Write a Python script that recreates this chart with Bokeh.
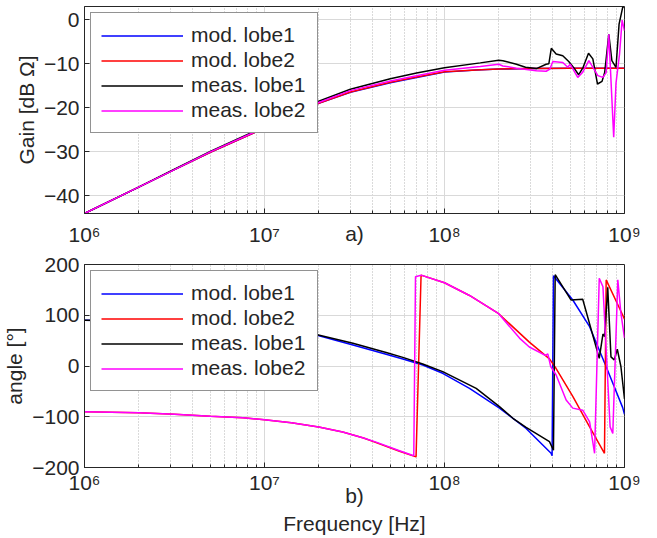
from bokeh.plotting import figure
from bokeh.layouts import column
from bokeh.models import Range1d, FixedTicker
from bokeh.embed import file_html
from bokeh.resources import INLINE

# ---------------- data: gain (top) ----------------
f_gain_mod = [1e6, 2e6, 3e6, 5e6, 1e7, 1.5e7, 2e7, 3e7, 5e7, 7e7, 1e8, 1.5e8, 2e8, 3e8, 5e8, 1e9]
gain_mod1 = [-44, -38, -34.5, -30.1, -24.6, -21.3, -19.0, -16.5, -14.3, -13.1, -11.9, -11.4, -11.2, -11.1, -11.0, -11.0]
gain_mod2 = [-44, -38, -34.5, -30.1, -24.6, -21.3, -19.0, -16.4, -14.2, -13.0, -11.8, -11.4, -11.2, -11.05, -11.0, -11.0]

f_gain_meas1 = [1e6, 2e6, 3e6, 5e6, 1e7, 2e7, 3e7, 5e7, 7e7, 1e8,
                1.58e8, 2.0e8, 2.11e8, 2.51e8, 2.82e8, 3.24e8, 3.67e8, 3.80e8, 3.92e8, 4.17e8,
                4.54e8, 4.90e8, 5.25e8, 5.56e8, 5.89e8, 6.31e8, 6.67e8, 7.08e8, 7.50e8, 7.76e8,
                8.18e8, 8.51e8, 8.97e8, 9.33e8, 9.77e8, 1.0e9]
gain_meas1 = [-44, -38, -34.4, -29.9, -24.3, -18.5, -15.8, -13.4, -12.1, -10.9,
              -9.8, -9.2, -9.3, -10.1, -10.8, -11.1, -10.1, -10.0, -6.5, -7.8,
              -8.2, -9.5, -11.0, -12.5, -10.8, -7.6, -8.9, -14.6, -14.0, -12.0,
              -3.3, -9.3, -10.8, -1.0, 2.8, 3.0]

f_gain_meas2 = [1e6, 2e6, 3e6, 5e6, 1e7, 2e7, 3e7, 5e7, 7e7, 1e8,
                1.58e8, 2.0e8, 2.11e8, 2.51e8, 3.24e8, 3.67e8, 3.85e8, 4.0e8, 4.54e8, 4.84e8,
                4.99e8, 5.50e8, 5.86e8, 6.34e8, 7.11e8, 7.59e8, 7.91e8, 8.18e8, 8.71e8, 8.97e8,
                9.38e8, 9.70e8, 1.0e9]
gain_meas2 = [-44, -38, -34.5, -30, -24.5, -18.8, -16.1, -13.9, -12.7, -11.5,
              -10.6, -10.1, -10.5, -11.0, -11.6, -11.7, -11.2, -9.5, -9.7, -10.8,
              -10.1, -13.1, -11.9, -9.3, -12.7, -13.1, -12.0, -3.3, -26.7, -14.4,
              -7.9, -0.1, -2.5]

# ---------------- data: phase (bottom) ----------------
f_phase_mod1 = [1e6, 2e6, 3.16e6, 5e6, 1e7, 1.94e7, 3.1e7, 4.74e7, 5.87e7, 7.57e7,
                9.77e7, 1.377e8, 2.02e8, 2.84e8, 3.91e8, 3.96e8, 4.03e8, 5.16e8, 6.4e8, 7.9e8,
                9.77e8, 1e9]
phase_mod1 = [90, 88.5, 86, 83, 75, 61, 41.4, 23, 13.8, 2,
              -14.4, -44, -83, -123, -172, -177, 178, 130, 77.5, -1,
              -82, -95]

f_phase_mod2 = [1e6, 2e6, 3.16e6, 5e6, 7.59e6, 1e7, 1.41e7, 2.0e7, 2.72e7, 3.55e7,
                4.17e7, 5.62e7, 6.95e7, 7.41e7, 1.0e8, 1.377e8, 2.0e8, 2.96e8, 3.83e8, 4.17e8,
                5.16e8, 6.4e8, 7.74e8, 7.91e8, 9.77e8, 1e9]
phase_mod2 = [-90, -92, -95, -99, -102, -106, -112, -120, -130, -142,
              -151, -168, -179, 179, 164, 139, 103, 47, 14, -5,
              -60, -120, -172, 169.6, 100.6, 92]

f_phase_meas1 = [1e6, 2e6, 3.16e6, 5e6, 1e7, 1.94e7, 3.1e7, 4.74e7, 5.87e7, 7.57e7,
                 9.77e7, 1.5e8, 2.02e8, 2.4e8, 2.84e8, 3.83e8, 4.03e8, 4.12e8, 5.05e8, 5.86e8,
                 7.24e8, 7.59e8, 7.76e8, 8.07e8, 8.41e8, 8.77e8, 9.12e8, 9.55e8, 1e9]
phase_meas1 = [90, 88.5, 86, 83.5, 76, 62, 45, 26.5, 17, 4,
               -11, -44, -80, -103, -121, -149, -166, 180, 130, 131.5,
               15, 63, 58, 155, 18, 12, 33, -1, -65]

f_phase_meas2 = [1e6, 2e6, 3.16e6, 5e6, 7.59e6, 1e7, 1.41e7, 2.0e7, 2.72e7, 3.55e7,
                 4.17e7, 5.62e7, 6.75e7, 6.9e7, 7.41e7, 1.0e8, 1.377e8, 2.0e8, 2.61e8, 2.96e8,
                 3.63e8, 3.75e8, 3.89e8, 4.17e8, 4.74e8, 5.16e8, 5.86e8, 6.4e8, 6.82e8, 7.24e8,
                 7.59e8, 8.32e8, 8.61e8, 9.18e8, 9.55e8, 1e9]
phase_meas2 = [-90, -92, -95, -99, -102, -106, -112, -120, -130, -142,
               -150, -167, -177, 176, 179, 164, 139, 103, 55, 37.5,
               21, 24, -1, -17.7, -67, -83, -87, -110, -172, 173,
               156, -120, -133, 170, 104, 55]

series_names = ["mod. lobe1", "mod. lobe2", "meas. lobe1", "meas. lobe2"]
series_colors = ["#0000ff", "#ff0000", "#000000", "#ff00ff"]

x_major = [1e6, 1e7, 1e8, 1e9]
x_minor = [m * d for d in [1e6, 1e7, 1e8] for m in range(2, 10)]
x_labels = {1e6: "10⁶", 1e7: "10⁷", 1e8: "10⁸", 1e9: "10⁹"}
gain_ticks = [-40, -30, -20, -10, 0]
phase_ticks = [-200, -100, 0, 100, 200]

FONT = "Liberation Sans"
DARK = "#262626"
FS = "21px"


def make_fig(y_range, y_ticks, ylabel, frame_h, mb_top, mb_bottom, xlabel_standoff):
    p = figure(x_axis_type="log", x_range=Range1d(1e6, 1e9), y_range=Range1d(*y_range),
               frame_width=540, frame_height=frame_h, min_border_left=82, min_border_right=35,
               min_border_top=mb_top, min_border_bottom=mb_bottom,
               output_backend="svg", toolbar_location=None)
    p.outline_line_color = DARK
    p.outline_line_width = 1
    p.background_fill_color = "white"
    p.border_fill_color = "white"

    p.xaxis.ticker = FixedTicker(ticks=x_major, minor_ticks=x_minor)
    p.xaxis.major_label_overrides = x_labels
    p.yaxis.ticker = FixedTicker(ticks=y_ticks)
    for ax in (p.xaxis[0], p.yaxis[0]):
        ax.axis_line_color = DARK
        ax.major_tick_line_color = DARK
        ax.minor_tick_line_color = DARK
        ax.major_tick_in = 5
        ax.major_tick_out = 0
        ax.minor_tick_in = 3
        ax.minor_tick_out = 0
        ax.major_label_text_font = FONT
        ax.major_label_text_font_size = FS
        ax.major_label_text_color = DARK
        ax.axis_label_text_font = FONT
        ax.axis_label_text_font_size = FS
        ax.axis_label_text_font_style = "normal"
        ax.axis_label_text_color = DARK
    p.yaxis.minor_tick_line_color = None
    p.yaxis.axis_label = ylabel
    p.yaxis.axis_label_standoff = 3
    p.yaxis.major_label_standoff = 5
    p.xaxis.major_label_standoff = xlabel_standoff

    p.xgrid.grid_line_color = "#d9d9d9"
    p.xgrid.minor_grid_line_color = "#b5b5b5"
    p.xgrid.minor_grid_line_dash = "1 2"
    p.ygrid.grid_line_color = "#d9d9d9"
    return p


# ---------------- top: gain ----------------
p1 = make_fig((-44, 3), gain_ticks, "Gain [dB Ω]", 207, 6, 38, 9)
p1.xaxis.axis_label = "a)"
p1.xaxis.axis_label_standoff = -27
gain_x = [f_gain_mod, f_gain_mod, f_gain_meas1, f_gain_meas2]
gain_y = [gain_mod1, gain_mod2, gain_meas1, gain_meas2]
for xs, ys, name, col in zip(gain_x, gain_y, series_names, series_colors):
    p1.line(xs, ys, line_color=col, line_width=1.5, legend_label=name)

# ---------------- bottom: phase ----------------
p2 = make_fig((-200, 200), phase_ticks, "angle [°]", 203, 13, 71, 3)
p2.xaxis.axis_label = "b)\nFrequency [Hz]"
p2.xaxis.axis_label_standoff = -13
p2.xaxis.axis_label_text_line_height = 1.25
phase_x = [f_phase_mod1, f_phase_mod2, f_phase_meas1, f_phase_meas2]
phase_y = [phase_mod1, phase_mod2, phase_meas1, phase_meas2]
for xs, ys, name, col in zip(phase_x, phase_y, series_names, series_colors):
    p2.line(xs, ys, line_color=col, line_width=1.5, legend_label=name)

for p in (p1, p2):
    lg = p.legend[0]
    lg.location = "top_left"
    lg.margin = 6
    lg.padding = 10
    lg.spacing = 1
    lg.glyph_width = 82
    lg.glyph_height = 21
    lg.label_height = 21
    lg.label_width = 116
    lg.label_standoff = 8
    lg.label_text_font = FONT
    lg.label_text_font_size = FS
    lg.label_text_color = DARK
    lg.border_line_color = DARK
    lg.border_line_width = 1
    lg.background_fill_color = "white"
    lg.background_fill_alpha = 1.0

layout = column(p1, p2)
open("out.html", "w").write(file_html(layout, INLINE))
